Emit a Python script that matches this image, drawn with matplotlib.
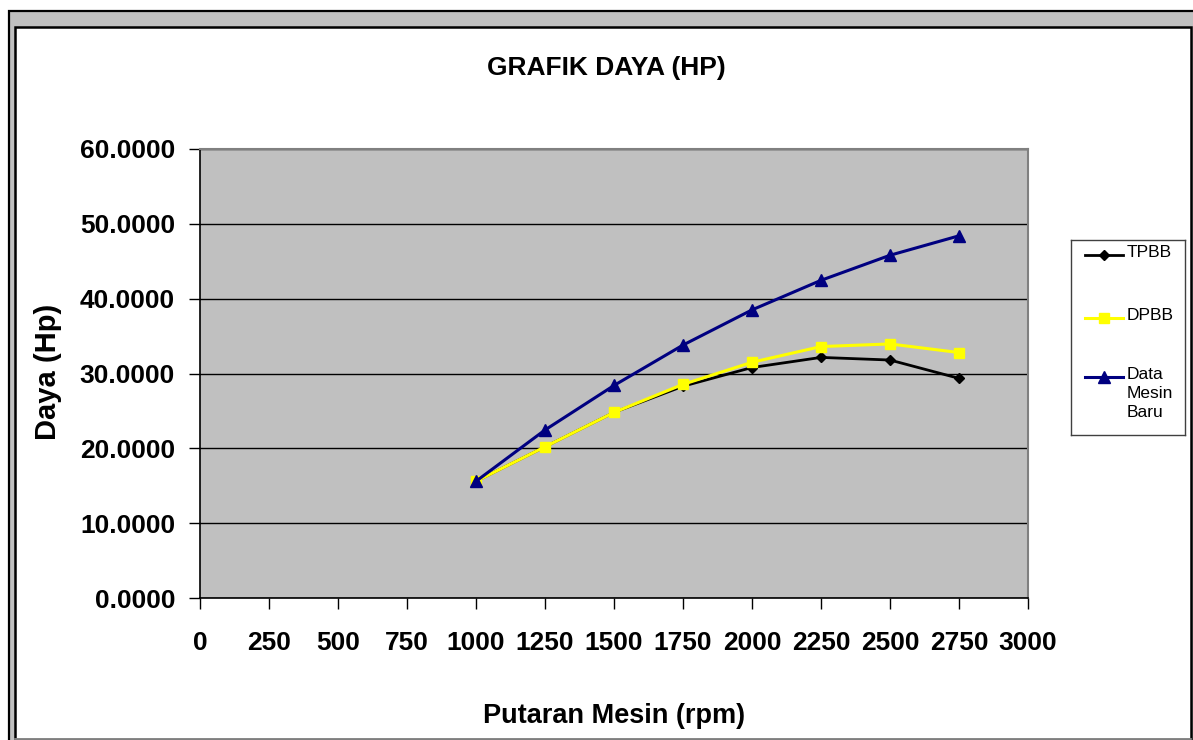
import matplotlib
matplotlib.use("Agg")
import matplotlib.pyplot as plt
from matplotlib.patches import Rectangle
from matplotlib.ticker import FormatStrFormatter, MultipleLocator

# ---- data ----
rpm = [1000, 1250, 1500, 1750, 2000, 2250, 2500, 2750]
tpbb = [15.6, 20.2, 24.8, 28.3, 30.8, 32.15, 31.8, 29.35]
dpbb = [15.6, 20.2, 24.8, 28.55, 31.5, 33.6, 33.95, 32.8]
data_mesin_baru = [15.6, 22.45, 28.4, 33.8, 38.5, 42.45, 45.8, 48.4]
series_labels = ["TPBB", "DPBB", "Data\nMesin\nBaru"]
title = "GRAFIK DAYA (HP)"
xlabel = "Putaran Mesin (rpm)"
ylabel = "Daya (Hp)"

W, H = 1193, 740
plt.rcParams['font.family'] = ['Liberation Sans', 'DejaVu Sans']
fig = plt.figure(figsize=(W / 100, H / 100), dpi=100)

# ---- background frame (pixel coordinates) ----
bg = fig.add_axes([0, 0, 1, 1])
bg.set_xlim(0, W)
bg.set_ylim(H, 0)
bg.axis('off')
bg.add_patch(Rectangle((8.5, 10.5), 1300, 800, facecolor='#c0c0c0',
                       edgecolor='black', linewidth=1.6))
bg.add_patch(Rectangle((14.5, 27), 1176.5, 711.5, facecolor='white',
                       edgecolor='black', linewidth=1.8))
bg.plot([14.5, 1191], [739, 739], color='#999999', linewidth=1.2)

# ---- main axes ----
ax = fig.add_axes([200 / W, 1 - 598 / H, 828 / W, 449 / H])
ax.set_facecolor('#c0c0c0')
styles = [
    dict(color='black', marker='D', markersize=5.5, linewidth=2.0),
    dict(color='#ffff00', marker='s', markersize=7, linewidth=2.2),
    dict(color='#000080', marker='^', markersize=8, linewidth=2.2),
]
all_series = [tpbb, dpbb, data_mesin_baru]
for ys, st in zip(all_series, styles):
    ax.plot(rpm, ys, zorder=3, **st)

ax.set_xlim(0, 3000)
ax.set_ylim(0, 60)
ax.xaxis.set_major_locator(MultipleLocator(250))
ax.yaxis.set_major_locator(MultipleLocator(10))
ax.yaxis.set_major_formatter(FormatStrFormatter('%.4f'))
ax.grid(axis='y', color='black', linewidth=1.0, zorder=1)
ax.set_axisbelow(True)
for s in ['top', 'right']:
    ax.spines[s].set_color('#808080')
    ax.spines[s].set_linewidth(1.5)
for s in ['left', 'bottom']:
    ax.spines[s].set_color('black')
    ax.spines[s].set_linewidth(1.2)
ax.tick_params(axis='both', direction='out', length=8, width=1.0,
               color='black', labelsize=19)
ax.tick_params(axis='y', pad=10)
ax.tick_params(axis='x', pad=16)
for lab in ax.get_xticklabels() + ax.get_yticklabels():
    lab.set_fontweight('bold')

# ---- titles ----
fig.text(606 / W, 1 - 68 / H, title, ha='center', va='center',
         fontsize=19, fontweight='bold')
fig.text(614 / W, 1 - 716 / H, xlabel, ha='center', va='center',
         fontsize=19.5, fontweight='bold')
fig.text(48 / W, 1 - 372 / H, ylabel, ha='center', va='center',
         rotation=90, fontsize=21, fontweight='bold')

# ---- legend (manual, pixel coordinates inside box) ----
lg = fig.add_axes([1071 / W, 1 - 435 / H, 114 / W, 195 / H])
lg.set_xlim(0, 114)
lg.set_ylim(195, 0)
lg.set_xticks([])
lg.set_yticks([])
for s in lg.spines.values():
    s.set_color('#404040')
    s.set_linewidth(1.0)
ys_leg = [15, 78, 137]
for yl, st, lab in zip(ys_leg, styles, series_labels):
    lg.plot([14, 33, 52], [yl, yl, yl], markevery=[1], **st)
    lg.text(56, yl - 10, lab, ha='left', va='top', fontsize=12.5,
            linespacing=1.35)

fig.savefig('out.png', dpi=100)
